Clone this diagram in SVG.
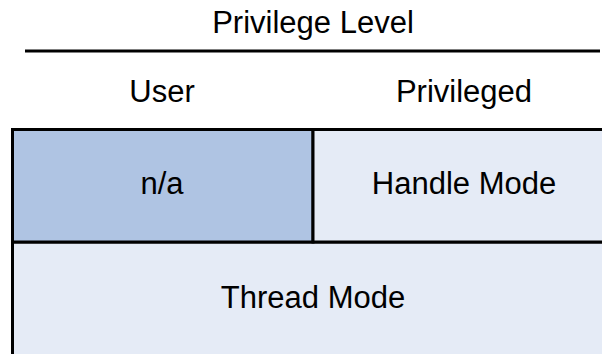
<svg xmlns="http://www.w3.org/2000/svg" width="602" height="354" viewBox="0 0 602 354">
<style>
text{font-family:"Liberation Sans",Arial,sans-serif;font-size:31px;fill:#000;text-anchor:middle}
.cell{stroke:#000;stroke-width:3}
</style>
<rect width="602" height="354" fill="#fff"/>
<g id="header">
<text x="313" y="33">Privilege Level</text>
<line x1="25" y1="51" x2="600" y2="51" stroke="#000" stroke-width="3"/>
<text x="162" y="102">User</text>
<text x="464" y="102">Privileged</text>
</g>
<g id="thread-mode">
<rect class="cell" x="12.5" y="242" width="620" height="130" fill="#E5EBF6"/>
<text x="313" y="308">Thread Mode</text>
</g>
<g id="na">
<rect class="cell" x="12.5" y="129.5" width="300.5" height="112.5" fill="#AFC4E3"/>
<text x="162" y="194">n/a</text>
</g>
<g id="handle-mode">
<rect class="cell" x="313" y="129.5" width="320" height="112.5" fill="#E5EBF6"/>
<text x="464" y="194">Handle Mode</text>
</g>
<g id="connectors"/>
</svg>
